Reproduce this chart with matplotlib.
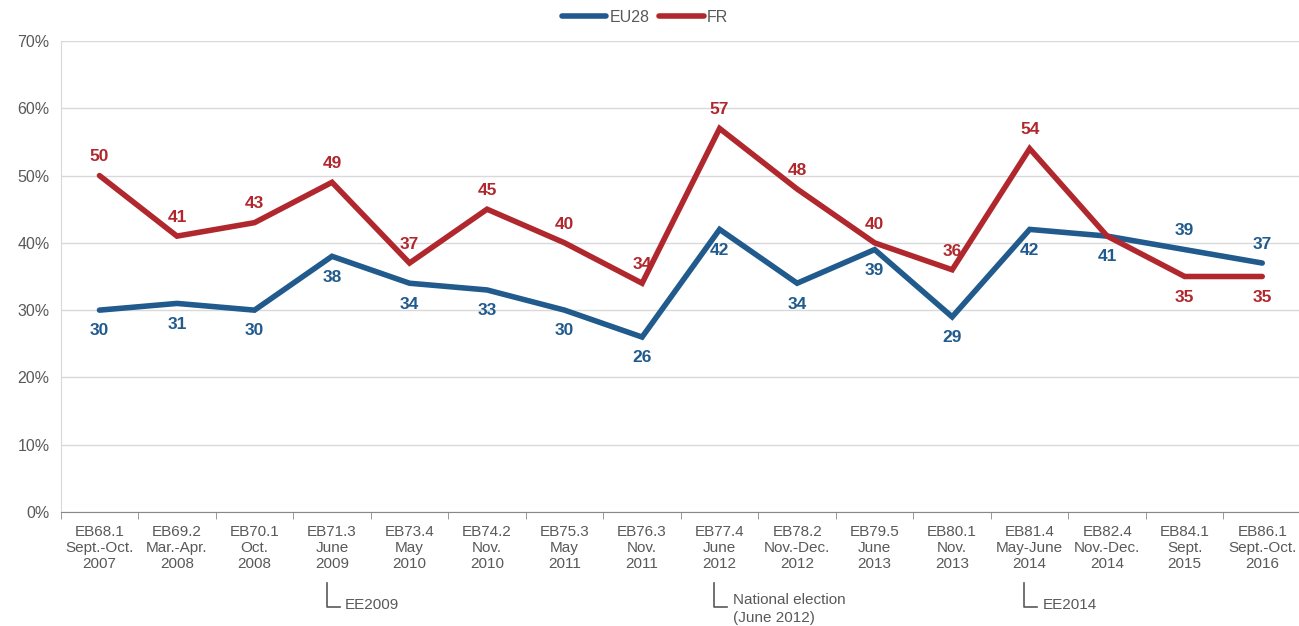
import matplotlib
matplotlib.use("Agg")
import matplotlib.pyplot as plt
from matplotlib.transforms import blended_transform_factory
from matplotlib.lines import Line2D

plt.rcParams['font.family'] = ['Liberation Sans', 'DejaVu Sans']

categories = ["EB68.1\nSept.-Oct.\n2007", "EB69.2\nMar.-Apr.\n2008", "EB70.1\nOct.\n2008",
              "EB71.3\nJune\n2009", "EB73.4\nMay\n2010", "EB74.2\nNov.\n2010",
              "EB75.3\nMay\n2011", "EB76.3\nNov.\n2011", "EB77.4\nJune\n2012",
              "EB78.2\nNov.-Dec.\n2012", "EB79.5\nJune\n2013", "EB80.1\nNov.\n2013",
              "EB81.4\nMay-June\n2014", "EB82.4\nNov.-Dec.\n2014", "EB84.1\nSept.\n2015",
              "EB86.1\nSept.-Oct.\n2016"]
eu28 = [30, 31, 30, 38, 34, 33, 30, 26, 42, 34, 39, 29, 42, 41, 39, 37]
fr = [50, 41, 43, 49, 37, 45, 40, 34, 57, 48, 40, 36, 54, 41, 35, 35]
# label placement: +1 above, -1 below, 0 hidden
eu28_pos = [-1]*14 + [1, 1]
fr_pos = [1]*13 + [0, -1, -1]
yticks = [0, 10, 20, 30, 40, 50, 60, 70]
events = [(3, ["EE2009"]), (8, ["National election", "(June 2012)"]), (12, ["EE2014"])]

BLUE = "#215a8c"
RED = "#b0282e"
GREY = "#595959"

W, H = 1299, 626
fig = plt.figure(figsize=(W/100, H/100), dpi=100)
ax = fig.add_axes([60.7/W, 1-512/H, (1301-60.7)/W, (512-41)/H])

x = list(range(len(categories)))
ax.plot(x, eu28, color=BLUE, lw=4, solid_capstyle='round', solid_joinstyle='miter', label="EU28", zorder=3)
ax.plot(x, fr, color=RED, lw=4, solid_capstyle='round', solid_joinstyle='miter', label="FR", zorder=3)

def offset(p):
    return 13.5 if p > 0 else -15

for xi, v, p in zip(x, eu28, eu28_pos):
    if p:
        ax.annotate(str(v), (xi, v), xytext=(0, offset(p)), textcoords='offset points',
                    ha='center', va='center', color=BLUE, fontsize=12.5, fontweight='bold', zorder=4)
for xi, v, p in zip(x, fr, fr_pos):
    if p:
        ax.annotate(str(v), (xi, v), xytext=(0, offset(p)), textcoords='offset points',
                    ha='center', va='center', color=RED, fontsize=12.5, fontweight='bold', zorder=4)

ax.set_xlim(-0.5, len(categories)-0.5)
ax.set_ylim(0, 70)
ax.set_yticks(yticks)
ax.set_yticklabels([f"{t}%" for t in yticks], color=GREY, fontsize=11.5)
ax.yaxis.grid(True, color="#d9d9d9", lw=1)
ax.set_axisbelow(True)
ax.tick_params(axis='y', length=0, pad=8)

ax.set_xticks(x)
ax.set_xticklabels(categories, color=GREY, fontsize=11, linespacing=1.2)
ax.set_xticks([i - 0.5 for i in range(len(categories)+1)], minor=True)
ax.tick_params(axis='x', which='major', length=0, pad=9)
ax.tick_params(axis='x', which='minor', length=5, color="#888888", direction='out')

for s in ['top', 'right']:
    ax.spines[s].set_visible(False)
ax.spines['left'].set_color("#d9d9d9")
ax.spines['bottom'].set_color("#888888")

tr = blended_transform_factory(ax.transData, fig.transFigure)
for idx, lines in events:
    x0 = idx - 0.07
    ytop = 1 - 583/H
    ybot = 1 - 607/H
    fig.add_artist(Line2D([x0, x0, x0 + 0.17], [ytop, ybot, ybot], transform=tr,
                          color=GREY, lw=1.2))
    if len(lines) == 1:
        ys = [1 - 605/H]
    else:
        ys = [1 - 600/H, 1 - 618/H]
    for yy, txt in zip(ys, lines):
        ax.text(x0 + 0.24, yy, txt, transform=tr, ha='left', va='center',
                color=GREY, fontsize=11)

fig.legend(loc='center', bbox_to_anchor=(645/W, 1-17/H), ncol=2, frameon=False,
           fontsize=11.5, handlelength=2.8, columnspacing=0.6, handletextpad=0.2,
           labelcolor=GREY)

fig.savefig("out.png", dpi=100)
